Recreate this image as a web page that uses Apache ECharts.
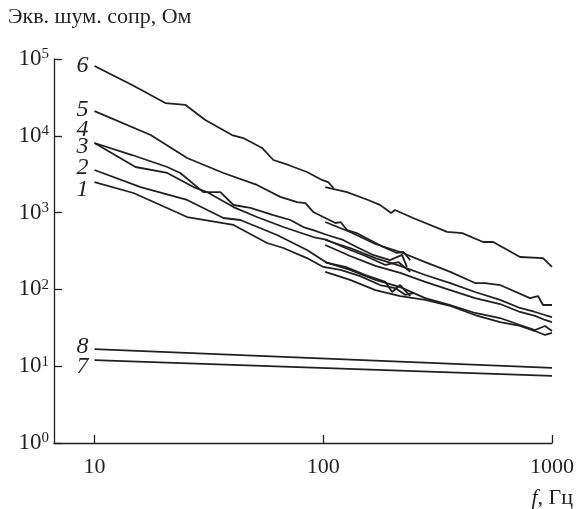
<!DOCTYPE html>
<html>
<head>
<meta charset="utf-8">
<script src="https://cdn.jsdelivr.net/npm/echarts@6/dist/echarts.min.js"></script>
<style>
  html, body { margin: 0; padding: 0; background: #fff; }
  #chart { width: 581px; height: 509px; }
</style>
</head>
<body>
<div id="chart"></div>
<script>
// curve numbers shown next to the lines
const curveNames = ['1', '2', '3', '4', '5', '6', '7', '8'];

// [f, Гц ; R, Ом] - low range (10..250 Hz) and high range (100..1000 Hz)
const curve1Low = [[10, 2500], [14.8, 1800], [19.4, 1256], [25.4, 876], [40.5, 690], [56.8, 402], [66.9, 346], [84.9, 256], [100, 196], [119, 179], [145, 149], [177, 114], [206, 104], [228, 85], [250, 90]];
const curve1High = [[102, 169], [131, 133], [169, 98], [217, 82], [279, 73], [359, 60.8], [461, 46.4], [593, 37.6], [725, 33.4], [843, 28.7], [932, 25.5], [1000, 27.1]];

const curve2Low = [[10, 3590], [15.9, 2150], [25.4, 1460], [36.6, 851], [43.4, 801], [62.8, 511], [84.9, 326], [104, 221], [125, 196], [153, 154], [187, 125], [200, 92.5], [217, 114], [240, 82]];
const curve2High = [[102, 227], [131, 179], [169, 133], [217, 107], [279, 77], [359, 62.6], [461, 49.3], [593, 42.4], [725, 34.4], [843, 29.6], [932, 33.4], [1000, 28.7]];

const curve3Low = [[10, 8055], [15.1, 3925], [20.8, 3280], [27.1, 2150], [31, 1850], [40.5, 1180], [51.3, 876], [66.9, 649], [90.4, 481], [104, 440], [125, 346], [153, 272], [187, 208], [213, 227], [240, 169]];
const curve3High = [[102, 379], [131, 272], [169, 202], [217, 164], [279, 125], [359, 98], [461, 77], [593, 64.5], [725, 50.8], [843, 45.1], [932, 40], [1000, 37.6]];

const curve4Low = [[10, 8055], [14.6, 5620], [20.8, 3925], [23.7, 3280], [29.9, 1850], [35.5, 1850], [40.5, 1256], [48, 1150], [60.5, 930], [71.8, 801], [81.8, 649], [90.4, 593], [104, 511], [122, 440], [140, 357], [165, 281], [196, 241], [221, 281], [232, 196]];
const curve4High = [[102, 440], [131, 346], [169, 256], [217, 202], [279, 154], [359, 121], [461, 92.5], [593, 73], [725, 57.3], [843, 50.8], [932, 46.4], [1000, 43.7]];

const curve5Low = [[10, 21000], [17.6, 10240], [25.4, 5140], [36.6, 3280], [51.3, 2290], [64.9, 1600], [76.8, 1370], [83.5, 1330], [90.4, 1020], [100, 876], [113, 732], [119, 754], [127, 593], [140, 542], [160, 440], [183, 357], [210, 298], [224, 307], [240, 241]];
const curve5High = [[102, 754], [131, 559], [169, 390], [217, 307], [279, 227], [359, 169], [461, 121], [510, 121], [593, 114], [801, 77], [869, 82], [913, 62.6], [1000, 62.6]];

const curve6Low = [[10, 81100], [14.6, 45800], [20.4, 26700], [25, 25200], [30.5, 16060], [39.9, 10240], [44.7, 9360], [54, 6940], [60.5, 4840], [70.3, 4170], [84.9, 3380], [98.7, 2660], [105, 2500], [111, 2090]];
const curve6High = [[102, 2150], [127, 1850], [157, 1460], [177, 1260], [198, 990], [206, 1080], [247, 850], [348, 560], [405, 540], [500, 414], [553, 414], [725, 264], [913, 256], [1000, 196]];

const curve7 = [[10, 12], [1000, 7.5]];
const curve8 = [[10, 16.7], [1000, 9.5]];

const xTicks = [10, 100, 1000];
const yTicks = [1, 10, 100, 1000, 10000, 100000];

const serif = '"Liberation Serif", "DejaVu Serif", serif';
const ink = '#231f20';
// vertical nudge of the curve numbers
const labelShift = { '1': 8, '2': -2, '3': 4, '4': -13, '5': -1, '6': 0, '7': 7, '8': -2 };

const segments = [
  ['1', curve1Low, true], ['1', curve1High, false],
  ['2', curve2Low, true], ['2', curve2High, false],
  ['3', curve3Low, true], ['3', curve3High, false],
  ['4', curve4Low, true], ['4', curve4High, false],
  ['5', curve5Low, true], ['5', curve5High, false],
  ['6', curve6Low, true], ['6', curve6High, false],
  ['7', curve7, true], ['8', curve8, true]
];

const series = segments.map(([name, data, withLabel]) => ({
  name: name,
  type: 'line',
  showSymbol: true,
  symbol: 'circle',
  symbolSize: 0,
  silent: true,
  animation: false,
  lineStyle: { color: ink, width: 1.8 },
  itemStyle: { color: ink },
  data: data.map((p, i) => (withLabel && i === 0) ? {
    value: p,
    label: {
      show: true, position: 'left', distance: 6,
      offset: [0, labelShift[name]],
      formatter: name,
      fontFamily: serif, fontStyle: 'italic', fontSize: 24, color: ink
    }
  } : p)
}));

const chart = echarts.init(document.getElementById('chart'));
chart.setOption({
  backgroundColor: '#fff',
  animation: false,
  title: [
    { text: 'Экв. шум. сопр, Ом', left: 3, top: 1,
      textStyle: { fontFamily: serif, fontWeight: 'normal', fontSize: 22, color: ink } },
    { text: '{i|f}, Гц', right: 3, top: 482,
      textStyle: { fontFamily: serif, fontWeight: 'normal', fontSize: 22, color: ink,
        rich: { i: { fontFamily: serif, fontStyle: 'italic', fontSize: 22, color: ink } } } }
  ],
  grid: { left: 54, right: 29, top: 59, bottom: 66, containLabel: false },
  xAxis: {
    type: 'log', logBase: 10, min: 6.65, max: 1000,
    axisLine: { lineStyle: { color: ink, width: 1.3 } },
    axisTick: { inside: true, length: 8, lineStyle: { color: ink, width: 1.3 } },
    splitLine: { show: false },
    axisLabel: {
      showMinLabel: false, margin: 13,
      fontFamily: serif, fontSize: 22, color: ink,
      formatter: v => xTicks.indexOf(Math.round(v)) >= 0 ? String(Math.round(v)) : ''
    }
  },
  yAxis: {
    type: 'log', logBase: 10, min: yTicks[0], max: yTicks[yTicks.length - 1],
    axisLine: { lineStyle: { color: ink, width: 1.3 } },
    axisTick: { inside: true, length: 8, lineStyle: { color: ink, width: 1.3 } },
    splitLine: { show: false },
    axisLabel: {
      margin: 5, color: ink,
      formatter: v => '{b|10}{s|' + Math.round(Math.log10(v)) + '}',
      rich: {
        b: { fontFamily: serif, fontSize: 23, color: ink, lineHeight: 24 },
        s: { fontFamily: serif, fontSize: 15, color: ink, verticalAlign: 'top', lineHeight: 14 }
      }
    }
  },
  series: series
});
</script>
</body>
</html>
